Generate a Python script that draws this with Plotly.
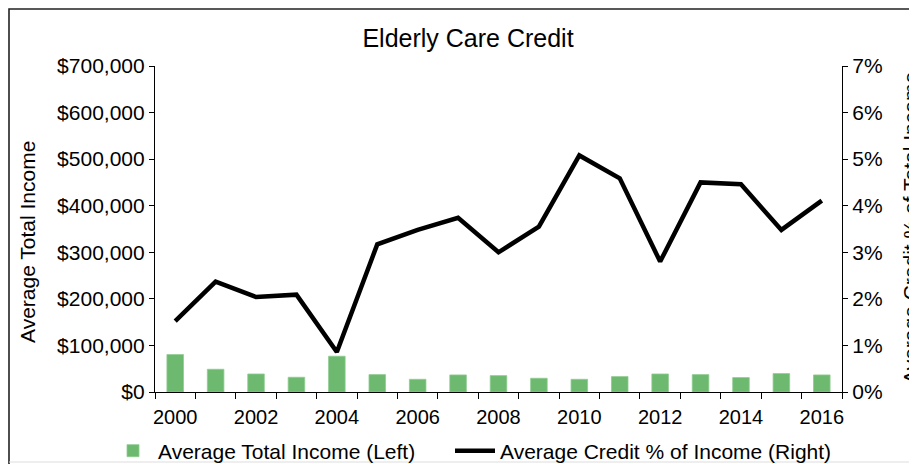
import plotly.graph_objects as go

years = list(range(2000, 2017))
avg_income = [80400, 48800, 38700, 31600, 76800, 37400, 27300, 36600, 35200,
              29500, 27300, 33100, 38700, 37400, 31000, 39600, 36600]
credit_pct = [0.0152, 0.0237, 0.0204, 0.0209, 0.0086, 0.0317, 0.0348, 0.0374, 0.0300,
              0.0355, 0.0508, 0.0459, 0.0280, 0.0450, 0.0446, 0.0348, 0.0411]
x_tick_vals = [2000, 2002, 2004, 2006, 2008, 2010, 2012, 2014, 2016]
x_tick_text = [str(v) for v in x_tick_vals]
boundaries = [y - 0.5 for y in years] + [years[-1] + 0.5]

FONT = "Liberation Sans, Arial, sans-serif"
W, H = 917, 464
OFF = 8  # page body margin offset
# plot area in screen pixels
L, R, T, B = 155, 842, 66, 392


def px(xp):
    return (xp - L) / (R - L)


def py(yp):
    return (B - yp) / (B - T)


def cx(xp):
    return (xp - OFF) / W


def cy(yp):
    return 1 - (yp - OFF) / H


fig = go.Figure()
fig.add_trace(go.Bar(
    x=years, y=avg_income, name="Average Total Income (Left)",
    marker=dict(color="#6cb96f", line=dict(color="#8fcc91", width=0.8)),
    yaxis="y", legend="legend",
))
fig.add_trace(go.Scatter(
    x=years, y=credit_pct, name="Average Credit % of Income (Right)",
    mode="lines", line=dict(color="black", width=4.5), yaxis="y2", legend="legend2",
))

axis_common = dict(showgrid=False, zeroline=False, showline=True, linecolor="black",
                   linewidth=1.2, ticks="outside", ticklen=5, tickcolor="black",
                   tickfont=dict(family=FONT, size=21, color="black"))

legend_common = dict(orientation="h", xanchor="left", yanchor="middle",
                     font=dict(family=FONT, size=21, color="black"), itemwidth=40,
                     tracegroupgap=0, bgcolor="rgba(0,0,0,0)")

fig.update_layout(
    width=W, height=H,
    margin=dict(l=L - OFF, r=W - (R - OFF), t=T - OFF, b=H - (B - OFF), autoexpand=False),
    paper_bgcolor="white", plot_bgcolor="white",
    font=dict(family=FONT, color="black"),
    bargap=0.59,
    showlegend=True,
    legend=dict(x=px(108), y=py(451), **legend_common),
    legend2=dict(x=px(450), y=py(451), **legend_common),
    title=dict(text="Elderly Care Credit", xref="container", yref="container",
               x=cx(468), xanchor="center", y=cy(38), yanchor="middle",
               font=dict(family=FONT, size=25, color="black")),
    xaxis=dict(range=[1999.5, 2016.5], tickmode="array", tickvals=x_tick_vals,
               ticktext=x_tick_text, showgrid=False, zeroline=False, showline=True,
               linecolor="black", linewidth=1.2, ticks="", ticklen=0,
               ticklabelstandoff=7,
               tickfont=dict(family=FONT, size=20, color="black"),
               minor=dict(tickmode="array", tickvals=boundaries, ticks="outside",
                          ticklen=6, tickcolor="black", tickwidth=1.2, showgrid=False)),
    yaxis=dict(range=[0, 700000], tickmode="linear", tick0=0, dtick=100000,
               tickprefix="$", tickformat=",d", **axis_common),
    yaxis2=dict(range=[0, 0.07], tickmode="linear", tick0=0, dtick=0.01,
                tickformat=".0%", overlaying="y", side="right", **axis_common),
)

fig.add_annotation(text="Average Total Income", xref="paper", yref="paper",
                   x=px(27), y=py(242), textangle=-90, showarrow=False,
                   xanchor="center", yanchor="middle",
                   font=dict(family=FONT, size=21, color="black"))
fig.add_annotation(text="Average Credit % of Total Income", xref="paper", yref="paper",
                   x=px(910), y=py(228), textangle=-90, showarrow=False,
                   xanchor="center", yanchor="middle",
                   font=dict(family=FONT, size=21, color="black"))

fig.add_shape(type="rect", xref="paper", yref="paper",
              x0=px(OFF + 1), x1=px(940), y0=py(490), y1=py(OFF + 1),
              line=dict(color="#222", width=1.6), fillcolor="rgba(0,0,0,0)", layer="above")
fig.add_shape(type="line", xref="paper", yref="paper",
              x0=px(OFF + 1), x1=px(940), y0=py(462), y1=py(462),
              line=dict(color="#dddddd", width=1))

fig.write_html("out.html")
